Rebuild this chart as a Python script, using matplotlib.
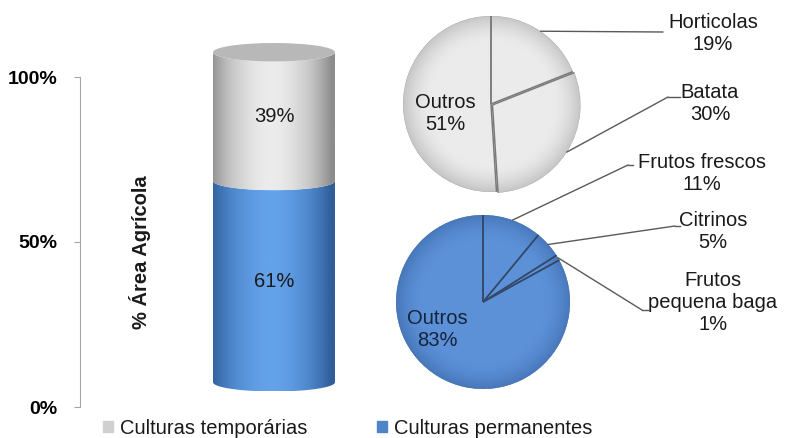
import numpy as np
import matplotlib
matplotlib.use("Agg")
import matplotlib.pyplot as plt
from matplotlib.colors import LinearSegmentedColormap
from matplotlib.patches import Polygon, Ellipse, Patch, Circle
from matplotlib.lines import Line2D

plt.rcParams['font.family'] = ['Liberation Sans', 'DejaVu Sans']

# dados
series = ['Culturas temporárias', 'Culturas permanentes']
bar_vals = [39, 61]            # % da área agrícola
yticks = [0, 50, 100]
ytick_labels = ['0%', '50%', '100%']

temp_labels = ['Horticolas', 'Batata', 'Outros']
temp_vals = [19, 30, 51]
perm_labels = ['Frutos frescos', 'Citrinos', 'Frutos\npequena baga', 'Outros']
perm_vals = [11, 5, 1, 83]

W, H = 787, 438
fig = plt.figure(figsize=(W / 100, H / 100), dpi=100)

def fx(px):
    return px / W

def fy(py):
    return 1 - py / H

txt = '#1a1a1a'
fs = 14.5

# ---- cilindro empilhado
ax = fig.add_axes([fx(80), fy(407), 300 / W, 379.5 / H])
cx, a, b, off = 194, 61, 2.8, 7.5

cmaps = {
    'Culturas permanentes': LinearSegmentedColormap.from_list('b', ['#2f5e98', '#4a82c6', '#64a2ea']),
    'Culturas temporárias': LinearSegmentedColormap.from_list('g', ['#8c8c8c', '#c2c2c2', '#ececec']),
}
t = np.linspace(-1, 1, 300)
shade = np.clip(1 - np.abs(t + 0.05) ** 1.8, 0, 1)[None, :]
arc = np.sqrt(1 - t ** 2)

order = [1, 0]  # permanentes em baixo
bottom = 0
for i in order:
    name, v = series[i], bar_vals[i]
    y0, y1 = bottom + off, bottom + v + off
    verts = np.concatenate([
        np.column_stack([cx + a * t, y0 - b * arc]),
        np.column_stack([cx + a * t[::-1], (y1 - b * arc)[::-1]]),
    ])
    poly = Polygon(verts, closed=True, facecolor='none', edgecolor='none')
    ax.add_patch(poly)
    im = ax.imshow(shade, extent=(cx - a, cx + a, y0 - b, y1), aspect='auto',
                   cmap=cmaps[name], vmin=0, vmax=1, zorder=2)
    im.set_clip_path(poly)
    ax.text(cx, bottom + v / 2 + off, f'{v}%', ha='center', va='center',
            fontsize=fs, color=txt, zorder=4)
    bottom += v

ax.add_patch(Ellipse((cx, bottom + off), 2 * a, 2 * b, facecolor='#b8b8b8',
                     edgecolor='none', zorder=3))

ax.set_xlim(0, 300)
ax.set_ylim(0, 115)
ax.set_yticks(yticks)
ax.set_yticklabels(ytick_labels, fontweight='bold', fontsize=14)
ax.set_xticks([])
for s in ['top', 'right', 'bottom']:
    ax.spines[s].set_visible(False)
ax.spines['left'].set_color('#a6a6a6')
ax.spines['left'].set_bounds(0, 100)
ax.tick_params(axis='y', length=4, color='#a6a6a6', pad=12)
ax.patch.set_visible(False)
ax.text(60, 47, '% Área Agrícola', rotation=90, ha='center', va='center',
        fontsize=fs, fontweight='bold', color=txt)

# ---- tartes
lc = '#595959'
g = np.linspace(-1.05, 1.05, 300)
gx, gy = np.meshgrid(g, g)
rim = np.clip((np.hypot(gx, gy) - 0.7) / 0.3, 0, 1) ** 1.6


def pie_axes(pcx, pcy, r):
    s = 2.4 * r
    return fig.add_axes([fx(pcx - s / 2), fy(pcy + s / 2), s / W, s / H])


def shaded_pie(pa, vals, explode, c_mid, c_rim, line_c, rim_c):
    wedges, _ = pa.pie(vals, startangle=90, counterclock=False, explode=explode,
                       colors=['none'] * len(vals),
                       wedgeprops=dict(edgecolor='none', linewidth=0))
    cm = LinearSegmentedColormap.from_list('r', [c_mid, c_rim])
    for w in wedges:
        x0, y0 = w.center
        im = pa.imshow(rim, extent=(x0 - 1.05, x0 + 1.05, y0 - 1.05, y0 + 1.05),
                       cmap=cm, vmin=0, vmax=1, origin='lower', zorder=1)
        im.set_clip_path(w)
        pa.add_patch(Circle(w.center, w.r, facecolor='none', edgecolor=rim_c,
                            lw=0.6, zorder=2, clip_path=w))
        for th in (w.theta1, w.theta2):
            tr = np.deg2rad(th)
            pa.plot([x0, x0 + w.r * np.cos(tr)], [y0, y0 + w.r * np.sin(tr)],
                    color=line_c, lw=1.1, zorder=3, solid_capstyle='butt')
    pa.set_xlim(-1.2, 1.2)
    pa.set_ylim(-1.2, 1.2)
    pa.axis('off')
    return wedges


def leader(pa, wedge, elbow, hook_x, label, pos):
    th = np.deg2rad((wedge.theta1 + wedge.theta2) / 2)
    x = wedge.center[0] + wedge.r * np.cos(th)
    y = wedge.center[1] + wedge.r * np.sin(th)
    pa.annotate('', xy=(x, y), xycoords='data', xytext=(elbow[0], H - elbow[1]),
                textcoords='figure pixels',
                arrowprops=dict(arrowstyle='-', color=lc, lw=1, shrinkA=0, shrinkB=0))
    if hook_x is not None:
        fig.add_artist(Line2D([fx(elbow[0]), fx(hook_x)], [fy(elbow[1])] * 2,
                              transform=fig.transFigure, color=lc, lw=1))
    fig.text(fx(pos[0]), fy(pos[1]), label, ha='center', va='center',
             fontsize=fs, color=txt, linespacing=1.2)

# culturas temporárias
pa1 = pie_axes(491, 104, 88)
w1 = shaded_pie(pa1, temp_vals, [0, 0.02, 0], '#ebebeb', '#c6c6c6', '#7a7a7a', '#b0b0b0')
leader(pa1, w1[0], (663, 32), None, f'{temp_labels[0]}\n{temp_vals[0]}%', (713, 34))
leader(pa1, w1[1], (668, 97), 680, f'{temp_labels[1]}\n{temp_vals[1]}%', (710, 103))
pa1.text(-0.52, -0.11, f'{temp_labels[2]}\n{temp_vals[2]}%', ha='center', va='center',
         fontsize=fs, color=txt, linespacing=1.2, zorder=5)

# culturas permanentes
pa2 = pie_axes(483, 302, 87)
w2 = shaded_pie(pa2, perm_vals, None, '#5c91d8', '#4878bb', '#34496a', '#4a72a8')
leader(pa2, w2[0], (628, 165), 633, f'{perm_labels[0]}\n{perm_vals[0]}%', (702, 173))
leader(pa2, w2[1], (675, 226), 680, f'{perm_labels[1]}\n{perm_vals[1]}%', (713, 232))
leader(pa2, w2[2], (642, 310), 648, f'{perm_labels[2]}\n{perm_vals[2]}%', (713, 303))
pa2.text(-0.53, -0.32, f'{perm_labels[3]}\n{perm_vals[3]}%', ha='center', va='center',
         fontsize=fs, color='#16243a', linespacing=1.2, zorder=5)

# legenda
handles = [Patch(color='#d0d0d0'), Patch(color='#4f84c9')]
fig.legend(handles, series, loc='center left', bbox_to_anchor=(fx(103), fy(428)),
           ncol=2, frameon=False, fontsize=fs, handlelength=0.5, handleheight=0.5,
           handletextpad=0.35, columnspacing=3.45, borderpad=0, borderaxespad=0,
           labelcolor=txt)

fig.savefig('out.png', dpi=100)
